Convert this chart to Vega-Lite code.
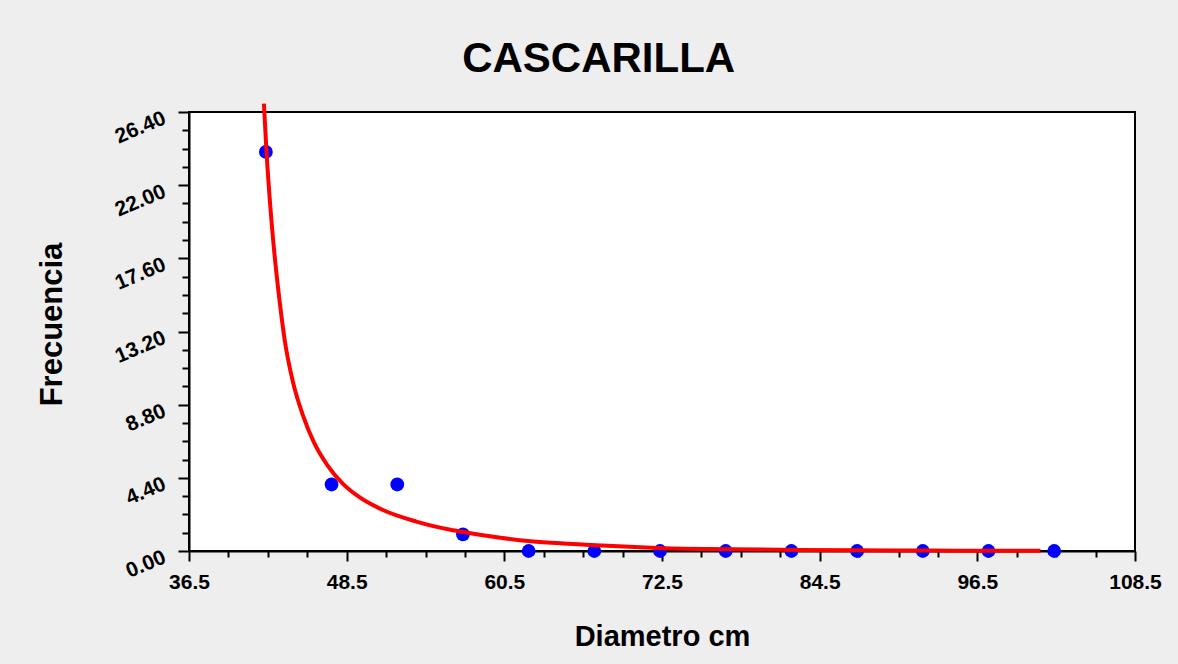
{
  "$schema": "https://vega.github.io/schema/vega-lite/v6.json",
  "width": 946,
  "height": 439,
  "autosize": {"type": "none"},
  "padding": {"left": 189, "top": 112, "right": 43, "bottom": 113},
  "background": "#eeeeee",
  "title": {
    "text": "CASCARILLA",
    "font": "Liberation Sans",
    "fontSize": 42,
    "fontWeight": "bold",
    "color": "#000000",
    "anchor": "middle",
    "frame": "bounds",
    "baseline": "alphabetic",
    "offset": -18
  },
  "config": {
    "view": {"fill": "#ffffff", "stroke": "#000000", "strokeWidth": 2},
    "axis": {
      "grid": false,
      "domainColor": "#000000",
      "domainWidth": 2,
      "tickColor": "#000000",
      "tickWidth": 2,
      "labelColor": "#000000",
      "labelFont": "Liberation Sans",
      "labelFontWeight": "bold",
      "titleFont": "Liberation Sans",
      "titleFontWeight": "bold",
      "titleColor": "#000000"
    }
  },
  "datasets": {
    "curve": [
      {"d": 42.2, "f": 26.9},
      {"d": 42.4, "f": 24.0},
      {"d": 42.7, "f": 20.6},
      {"d": 43.0, "f": 17.9},
      {"d": 43.4, "f": 15.0},
      {"d": 43.8, "f": 12.6},
      {"d": 44.4, "f": 10.2},
      {"d": 45.2, "f": 8.1},
      {"d": 46.0, "f": 6.55},
      {"d": 47.0, "f": 5.2},
      {"d": 48.2, "f": 4.05},
      {"d": 49.5, "f": 3.22},
      {"d": 51.3, "f": 2.45},
      {"d": 53.8, "f": 1.77},
      {"d": 56.4, "f": 1.28},
      {"d": 57.4, "f": 1.14},
      {"d": 60.2, "f": 0.8},
      {"d": 62.5, "f": 0.59},
      {"d": 65.0, "f": 0.45},
      {"d": 67.5, "f": 0.35},
      {"d": 70.0, "f": 0.25},
      {"d": 72.6, "f": 0.17},
      {"d": 77.7, "f": 0.11},
      {"d": 83.0, "f": 0.06},
      {"d": 90.0, "f": 0.03},
      {"d": 95.0, "f": 0.02},
      {"d": 101.3, "f": 0.01}
    ],
    "points": [
      {"d": 42.35, "f": 24},
      {"d": 47.35, "f": 4},
      {"d": 52.35, "f": 4},
      {"d": 57.35, "f": 1},
      {"d": 62.35, "f": 0},
      {"d": 67.35, "f": 0},
      {"d": 72.35, "f": 0},
      {"d": 77.35, "f": 0},
      {"d": 82.35, "f": 0},
      {"d": 87.35, "f": 0},
      {"d": 92.35, "f": 0},
      {"d": 97.35, "f": 0},
      {"d": 102.35, "f": 0}
    ]
  },
  "resolve": {"axis": {"x": "independent", "y": "independent"}},
  "layer": [
    {
      "data": {"name": "points"},
      "mark": {"type": "point", "filled": true, "opacity": 1},
      "encoding": {
        "x": {
          "field": "d", "type": "quantitative",
          "scale": {"domain": [36.5, 108.5], "nice": false, "zero": false},
          "axis": {
            "orient": "bottom",
            "values": [39.5, 42.5, 45.5, 51.5, 54.5, 57.5, 63.5, 66.5, 69.5, 75.5, 78.5, 81.5, 87.5, 90.5, 93.5, 99.5, 102.5, 105.5],
            "labels": false, "domain": false, "tickSize": 6, "title": null
          }
        },
        "y": {
          "field": "f", "type": "quantitative",
          "scale": {"domain": [0, 26.4], "nice": false},
          "axis": {
            "orient": "left",
            "values": [1.1, 2.2, 3.3, 5.5, 6.6, 7.7, 9.9, 11, 12.1, 14.3, 15.4, 16.5, 18.7, 19.8, 20.9, 23.1, 24.2, 25.3],
            "labels": false, "domain": false, "tickSize": 7, "title": null
          }
        },
        "color": {"value": "#0000ff"},
        "size": {"value": 190}
      }
    },
    {
      "data": {"name": "curve"},
      "mark": {"type": "line", "color": "#ff0000", "strokeWidth": 4, "interpolate": "monotone", "clip": false},
      "encoding": {
        "x": {
          "field": "d", "type": "quantitative",
          "scale": {"domain": [36.5, 108.5], "nice": false, "zero": false},
          "axis": {
            "orient": "bottom",
            "values": [36.5, 48.5, 60.5, 72.5, 84.5, 96.5, 108.5],
            "format": ".1f",
            "tickSize": 10,
            "labelFontSize": 21,
            "labelPadding": 10,
            "labelFlush": false,
            "labelOverlap": false,
            "title": "Diametro cm",
            "titleFontSize": 29,
            "titleBaseline": "middle",
            "titleAlign": "center",
            "titleX": 473,
            "titleY": 85
          }
        },
        "y": {
          "field": "f", "type": "quantitative",
          "scale": {"domain": [0, 26.4], "nice": false},
          "axis": {
            "orient": "left",
            "values": [0, 4.4, 8.8, 13.2, 17.6, 22, 26.4],
            "format": ".2f",
            "tickSize": 11,
            "labelFontSize": 21,
            "labelAngle": -23,
            "labelAlign": "right",
            "labelBaseline": "top",
            "labelPadding": 18,
            "labelOffset": -5,
            "labelFlush": false,
            "labelOverlap": false,
            "title": "Frecuencia",
            "titleFontSize": 31,
            "titleAngle": -90,
            "titleAlign": "center",
            "titleBaseline": "middle",
            "titleX": -137,
            "titleY": 212
          }
        }
      }
    }
  ]
}
